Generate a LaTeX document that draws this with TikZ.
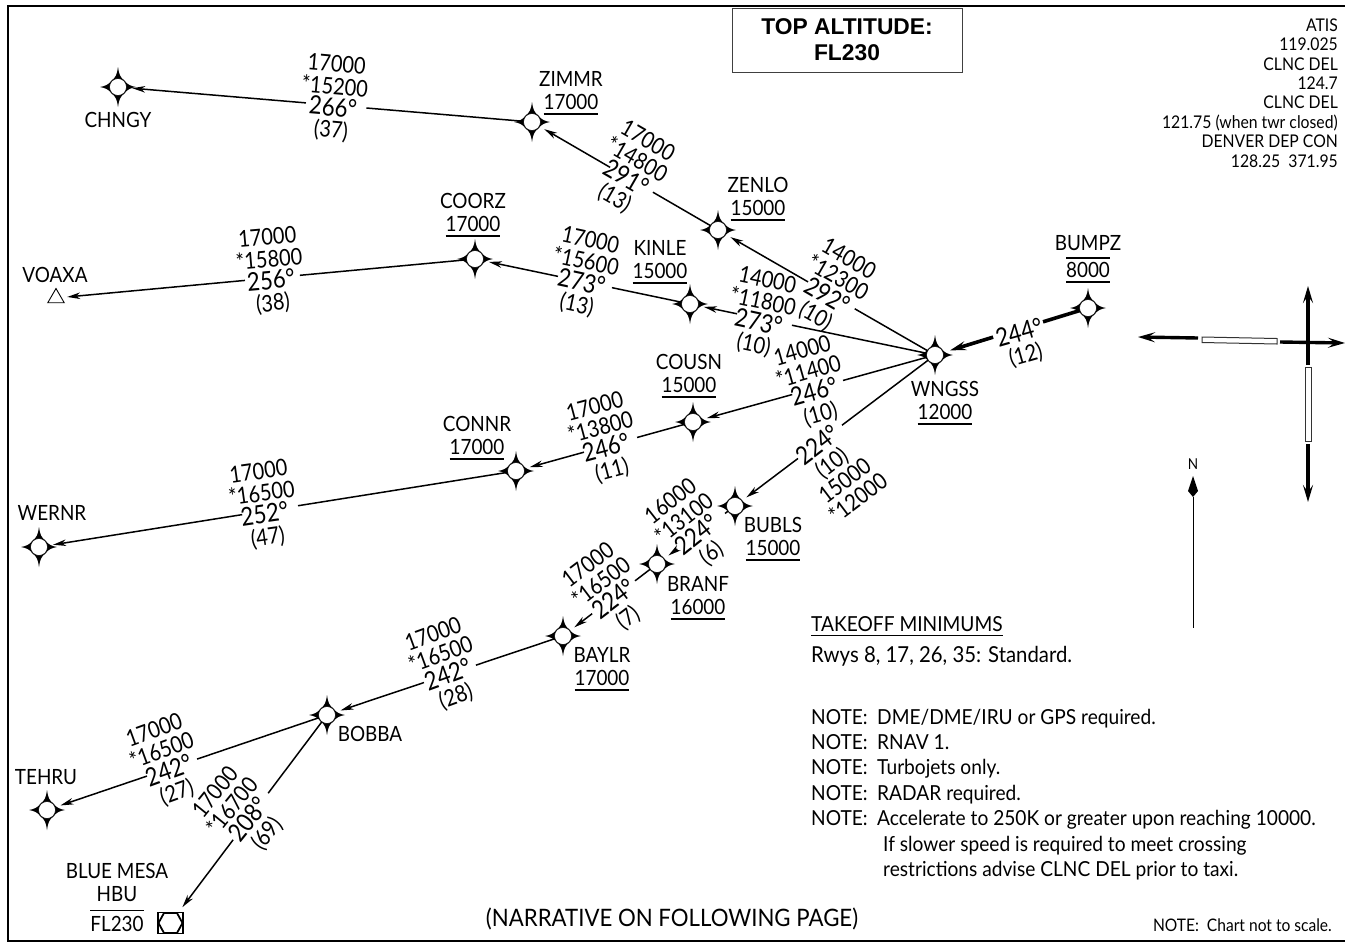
\documentclass[tikz,border=0pt]{standalone}
\usepackage{fontspec}
\setmainfont{Lato}[FakeStretch=0.9]
\newfontfamily\hdfont{Liberation Sans}
\newfontfamily\blkfont{Lato}[FakeStretch=0.87]
\newfontfamily\rmkfont{Lato}[FakeStretch=0.925]
\usetikzlibrary{arrows.meta,calc,shapes.geometric}
\tikzset{
  x=1pt,y=-1pt,
  wp/.style={circle,inner sep=0pt,minimum size=17pt,fill=white,draw=black,line width=.5pt},
  thinleg/.style={line width=1.5pt},
  thinarr/.style={line width=1.5pt,-{Stealth[length=13pt,width=6.5pt,inset=4pt]},shorten >=5.5pt},
  heavyleg/.style={line width=3.6pt},
  heavyarr/.style={line width=3.6pt,-{Stealth[length=16pt,width=9pt,inset=6pt]},shorten >=7pt},
  rwyarr/.style={line width=3.4pt,-{Stealth[length=17pt,width=10pt,inset=7pt]}},
  rwybox/.style={draw=black!80,line width=1pt,fill=white},
  blk/.style={font=\blkfont\fontsize{23}{22}\selectfont,inner sep=0pt,align=center},
  lab/.style={font=\fontsize{21}{23}\selectfont,inner sep=0pt,align=center},
  rmk/.style={font=\rmkfont\fontsize{20.7}{25.4}\selectfont,inner sep=0pt,align=left,anchor=west},
}
\newcommand{\wpt}[3]{%
  \begin{scope}[shift={(#2,#3)}]
  \fill (0,-20) .. controls (0.8,-13) and (2.5,-9) .. (6.5,-6.5)
    .. controls (9,-2.5) and (13,-0.8) .. (18,0)
    .. controls (13,0.8) and (9,2.5) .. (6.5,6.5)
    .. controls (2.5,9) and (0.8,13) .. (0,20)
    .. controls (-0.8,13) and (-2.5,9) .. (-6.5,6.5)
    .. controls (-9,2.5) and (-13,0.8) .. (-18,0)
    .. controls (-13,-0.8) and (-9,-2.5) .. (-6.5,-6.5)
    .. controls (-2.5,-9) and (-0.8,-13) .. (0,-20) -- cycle;
  \end{scope}
  \node[wp] (#1) at (#2,#3) {};}
\newcommand{\ang}[1]{{\fontsize{25.5}{22}\selectfont #1}}
\newcommand{\ulin}[1]{\setbox0\hbox{#1}\leavevmode\rlap{\raisebox{-5pt}{\rule{\wd0}{1.2pt}}}\box0}
\newcommand{\oulin}[1]{\setbox0\hbox{#1}\leavevmode\rlap{\raisebox{-5pt}{\rule{\wd0}{1.2pt}}}\rlap{\raisebox{19pt}{\rule{\wd0}{1.2pt}}}\box0}
\newcommand{\olin}[1]{\setbox0\hbox{#1}\leavevmode\rlap{\raisebox{20pt}{\rule{\wd0}{1.2pt}}}\box0}
% from, to, gap start, gap end
\newcommand{\legline}[4]{%
  \draw[thinleg] (#1) -- ($(#1)!#3!(#2)$);
  \draw[thinarr] ($(#1)!#4!(#2)$) -- (#2);}
\begin{document}
\begin{tikzpicture}
\useasboundingbox (0,0) rectangle (1345,943);
\fill[white] (0,0) rectangle (1345,943);
\draw[line width=2.6pt] (1346,6) -- (8,6) -- (8,941) -- (1346,941);

% title box
\node[draw=black!75,line width=1pt,minimum width=230pt,minimum height=64pt,inner sep=0pt,align=center,
      font=\hdfont\bfseries\fontsize{22.8}{26}\selectfont] (title) at (847,40) {TOP ALTITUDE:\\FL230};

% frequencies
\node[inner sep=0pt,anchor=east,align=right,font=\fontsize{17.5}{19.4}\selectfont] (freq) at (1338,93)
 {ATIS\\119.025\\CLNC DEL\\124.7\\CLNC DEL\\121.75 (when twr closed)\\DENVER DEP CON\\128.25\ \ 371.95};

% waypoints
\wpt{CHNGY}{118}{87}
\wpt{ZIMMR}{532}{122}
\wpt{ZENLO}{718}{230}
\wpt{KINLE}{690}{304}
\wpt{COORZ}{475}{259}
\wpt{WNGSS}{935}{355}
\wpt{BUMPZ}{1088}{308}
\wpt{COUSN}{693}{422}
\wpt{CONNR}{516}{471}
\wpt{WERNR}{39}{547}
\wpt{BUBLS}{735}{506}
\wpt{BRANF}{657}{564}
\wpt{BAYLR}{563}{636}
\wpt{BOBBA}{327}{715}
\wpt{TEHRU}{47}{810}
\node[regular polygon,regular polygon sides=3,draw,line width=.9pt,inner sep=0pt,minimum size=19pt] (VOAXA) at (56,298) {};
% VOR-type hexagon box
\node[draw,line width=1.8pt,inner sep=0pt,minimum width=25pt,minimum height=21pt] (HBU) at (170.5,923) {};
\draw[line width=1.8pt] (164,913) -- (177,913) -- (182.5,923) -- (177,933) -- (164,933) -- (158.5,923) -- cycle;

% connectors
\draw[heavyleg] (BUMPZ) -- ($(BUMPZ)!.294!(WNGSS)$);
\draw[heavyarr] ($(BUMPZ)!.62!(WNGSS)$) -- (WNGSS);
\legline{ZIMMR}{CHNGY}{.40}{.546}
\legline{ZENLO}{ZIMMR}{.35}{.58}
\legline{WNGSS}{ZENLO}{.37}{.585}
\legline{COORZ}{VOAXA}{.418}{.549}
\legline{KINLE}{COORZ}{.363}{.614}
\legline{WNGSS}{KINLE}{.584}{.808}
\legline{WNGSS}{COUSN}{.38}{.59}
\legline{COUSN}{CONNR}{.316}{.616}
\legline{CONNR}{WERNR}{.457}{.574}
\legline{WNGSS}{BUBLS}{.465}{.685}
\legline{BUBLS}{BRANF}{.128}{.74}
\legline{BRANF}{BAYLR}{.234}{.69}
\legline{BAYLR}{BOBBA}{.369}{.589}
\legline{BOBBA}{TEHRU}{.464}{.643}
\legline{BOBBA}{HBU}{.376}{.6}

% leg text blocks
\node[blk,rotate=-5,yshift=-2.5pt] (t1) at (334,96) {17000\\*15200\\\ang{266°}\\(37)};
\node[blk,rotate=-30,yshift=-2.5pt] (t2) at (632,168) {17000\\*14800\\\ang{291°}\\(13)};
\node[blk,rotate=-30,yshift=-2.5pt] (t3) at (833,286) {14000\\*12300\\\ang{292°}\\(10)};
\node[blk,rotate=5,yshift=-2.5pt] (t4) at (270,269) {17000\\*15800\\\ang{256°}\\(38)};
\node[blk,rotate=-12,yshift=-2.5pt] (t5) at (584,271) {17000\\*15600\\\ang{273°}\\(13)};
\node[blk,rotate=-12,yshift=-2.5pt] (t6) at (761,311) {14000\\*11800\\\ang{273°}\\(10)};
\node[blk,rotate=16,yshift=-2.5pt] (t7) at (811,381) {14000\\*11400\\\ang{246°}\\(10)};
\node[blk,rotate=15,yshift=-2.5pt] (t8) at (603,437) {17000\\*13800\\\ang{246°}\\(11)};
\node[blk,rotate=8,yshift=-2.5pt] (t9) at (263,503) {17000\\*16500\\\ang{252°}\\(47)};
\node[blk,rotate=37,yshift=-2.5pt] (t10) at (836,469) {\ang{224°}\\(10)\\15000\\*12000};
\node[blk,rotate=38,yshift=-2.5pt] (t11) at (690,526) {16000\\*13100\\\ang{224°}\\(6)};
\node[blk,rotate=37,yshift=-2.5pt] (t12) at (607,590) {17000\\*16500\\\ang{224°}\\(7)};
\node[blk,rotate=20,yshift=-2.5pt] (t13) at (444,664) {17000\\*16500\\\ang{242°}\\(28)};
\node[blk,rotate=20,yshift=-2.5pt] (t14) at (165,760) {17000\\*16500\\\ang{242°}\\(27)};
\node[blk,rotate=51,yshift=-2.5pt] (t15) at (240,812) {17000\\*16700\\\ang{208°}\\(69)};
\node[blk,rotate=16,yshift=-2.5pt] (t16) at (1022,342) {\ang{244°}\\(12)};

% waypoint labels
\node[lab] (lCHNGY) at (118,120) {CHNGY};
\node[lab] (lZIMMR) at (571,93) {ZIMMR\\\ulin{17000}};
\node[lab] (lZENLO) at (758,199) {ZENLO\\\ulin{15000}};
\node[lab] (lCOORZ) at (473,215) {COORZ\\\ulin{17000}};
\node[lab] (lKINLE) at (660,262) {KINLE\\\ulin{15000}};
\node[lab] (lBUMPZ) at (1088,259) {BUMPZ\\[4pt]\oulin{8000}};
\node[lab] (lWNGSS) at (945,403) {WNGSS\\\ulin{12000}};
\node[lab] (lCOUSN) at (689,376) {COUSN\\\ulin{15000}};
\node[lab] (lCONNR) at (477,438) {CONNR\\\ulin{17000}};
\node[lab] (lVOAXA) at (55,275) {VOAXA};
\node[lab] (lWERNR) at (52,513) {WERNR};
\node[lab] (lBUBLS) at (773,539) {BUBLS\\\ulin{15000}};
\node[lab] (lBRANF) at (698,598) {BRANF\\\ulin{16000}};
\node[lab] (lBAYLR) at (602,669) {BAYLR\\\ulin{17000}};
\node[lab] (lBOBBA) at (370,734) {BOBBA};
\node[lab] (lTEHRU) at (46,777) {TEHRU};
\node[lab] (lHBU) at (117,897) {BLUE MESA\\HBU\\[7pt]\olin{FL230}};

% remarks
\node[rmk] (tko) at (811,626) {\ulin{TAKEOFF MINIMUMS}};
\node[rmk,font=\rmkfont\fontsize{22}{25}\selectfont] (rwys) at (811,656) {Rwys 8, 17, 26, 35: Standard.};
\node[rmk] (notes) at (811,794.5) {%
  \makebox[66pt][l]{NOTE:}DME/DME/IRU or GPS required.\\
  \makebox[66pt][l]{NOTE:}RNAV 1.\\
  \makebox[66pt][l]{NOTE:}Turbojets only.\\
  \makebox[66pt][l]{NOTE:}RADAR required.\\
  \makebox[66pt][l]{NOTE:}Accelerate to 250K or greater upon reaching 10000.\\
  \hspace*{72pt}If slower speed is required to meet crossing\\
  \hspace*{72pt}restrictions advise CLNC DEL prior to taxi.};
\node[inner sep=0pt,font=\rmkfont\fontsize{24}{26}\selectfont] (narr) at (672,919) {(NARRATIVE ON FOLLOWING PAGE)};
\node[inner sep=0pt,anchor=east,font=\fontsize{17.3}{19}\selectfont] (scale) at (1332,925) {NOTE:\ \ Chart not to scale.};

% north arrow
\node[inner sep=0pt,font=\fontsize{15}{16}\selectfont] (N) at (1193,464) {N};
\coordinate (nTip) at (1193,476);
\coordinate (nFoot) at (1193,628);
\fill (nTip) -- (1198,491) -- (1193,497) -- (1188,491) -- cycle;
\draw[line width=.9pt] (1193,497) -- (nFoot);

% runways
\coordinate (wTip) at (1138,337);
\coordinate (wEnd) at (1198,338);
\coordinate (eEnd) at (1280,342);
\coordinate (eTip) at (1345,343);
\coordinate (nEnd) at (1308,365);
\coordinate (nAr) at (1308,286);
\coordinate (sEnd) at (1308,444);
\coordinate (sTip) at (1308,502);
\draw[rwyarr] (wEnd) -- (wTip);
\draw[rwyarr] (eEnd) -- (eTip);
\draw[rwyarr] (nEnd) -- (nAr);
\draw[rwyarr] (sEnd) -- (sTip);
\draw[rwybox] (1202,337) -- (1277,338.5) -- (1277,344) -- (1202,342.5) -- cycle;
\draw[rwybox] (1305.5,367) rectangle (1311,441.5);
\end{tikzpicture}
\end{document}
